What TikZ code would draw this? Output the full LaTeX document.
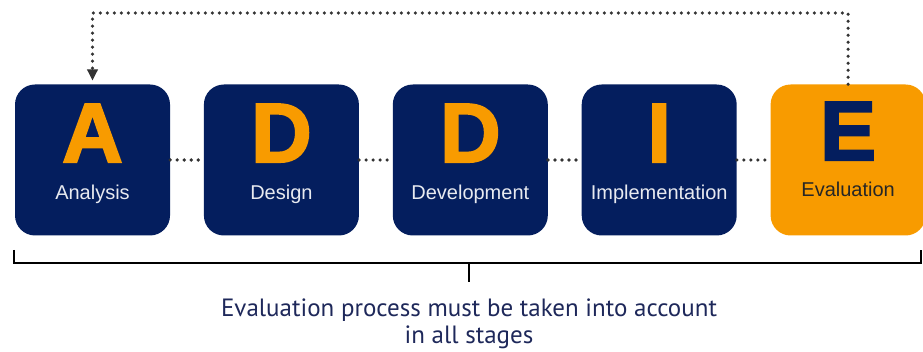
\documentclass[tikz,border=0pt]{standalone}
\usepackage{fontspec}
\setmainfont{Liberation Sans}
\newfontfamily\letterfont[FakeBold=2.5]{Liberation Sans Bold}
\newfontfamily\notefont{PT Sans}
\usepackage{xcolor}
\usetikzlibrary{positioning,arrows.meta}

\definecolor{addienavy}{RGB}{4,30,94}
\definecolor{addieorange}{RGB}{248,155,0}
\definecolor{labelgray}{RGB}{232,234,240}
\definecolor{notenavy}{RGB}{30,40,90}

\tikzset{
  phase/.style={rounded corners=20pt, minimum width=155pt, minimum height=151pt,
    inner sep=0pt, fill=addienavy},
  lastphase/.style={phase, fill=addieorange},
  bigletter/.style={anchor=base, inner sep=0pt, text=addieorange,
    font=\letterfont\fontsize{84}{84}\selectfont},
  phaselabel/.style={anchor=base, inner sep=0pt, text=labelgray,
    font=\fontsize{20}{20}\selectfont},
  link/.style={line width=3.6pt, dash pattern=on 0pt off 7pt, line cap=round,
    draw=black!80},
  bracket/.style={line width=2.8pt, draw=black}
}

\begin{document}
\begin{tikzpicture}[x=1pt, y=-1pt, node distance=33.5pt]
  \useasboundingbox (0,0) rectangle (923,352);

  % the five phases
  \node[phase] (analysis) at (92.5,160) {};
  \node[phase, right=of analysis] (design) {};
  \node[phase, right=of design] (development) {};
  \node[phase, right=of development] (implementation) {};
  \node[lastphase, right=of implementation] (evaluation) {};

  % letters and names
  \node[bigletter] (la) at ([yshift=-2pt]analysis.center) {A};
  \node[phaselabel] (na) at ([yshift=-40pt]analysis.center) {Analysis};
  \node[bigletter] (ld) at ([yshift=-2pt]design.center) {D};
  \node[phaselabel] (nd) at ([yshift=-40pt]design.center) {Design};
  \node[bigletter] (ldv) at ([yshift=-2pt]development.center) {D};
  \node[phaselabel] (ndv) at ([yshift=-40pt]development.center) {Development};
  \node[bigletter] (li) at ([yshift=-2pt]implementation.center) {I};
  \node[phaselabel] (ni) at ([yshift=-40pt]implementation.center) {Implementation};
  \node[bigletter, text=addienavy] (le) at ([yshift=0pt]evaluation.center) {E};
  \node[phaselabel, text=black!85] (ne) at ([yshift=-37pt]evaluation.center) {Evaluation};

  % dotted links between phases
  \draw[link] (analysis) -- (design);
  \draw[link] (design) -- (development);
  \draw[link] (development) -- (implementation);
  \draw[link] (implementation) -- (evaluation);

  % feedback loop
  \coordinate (loopright) at (evaluation.north |- 0,13);
  \coordinate (loopleft) at (analysis.north |- 0,13);
  \coordinate (looptip) at ([yshift=4pt]analysis.north);
  \draw[link] (evaluation.north) -- (loopright) -- (loopleft) -- ([yshift=15pt]analysis.north);
  \draw[-{Triangle[length=11pt,width=11pt]}, line width=1pt, draw=black!80]
    ([yshift=16pt]analysis.north) -- (looptip);

  % bracket under the phases
  \coordinate (brtl) at (14,250);
  \coordinate (brbl) at (14,263);
  \coordinate (brbr) at (921,263);
  \coordinate (brtr) at (921,250);
  \coordinate (brmid) at (469,263);
  \coordinate (brtip) at (469,282);
  \draw[bracket] (brtl) -- (brbl) -- (brbr) -- (brtr);
  \draw[bracket] (brmid) -- (brtip);

  \node[align=center, text=notenavy, font=\notefont\fontsize{25}{27}\selectfont,
    anchor=base] (note) at (469,343)
    {Evaluation process must be taken into account\\in all stages};
\end{tikzpicture}
\end{document}
